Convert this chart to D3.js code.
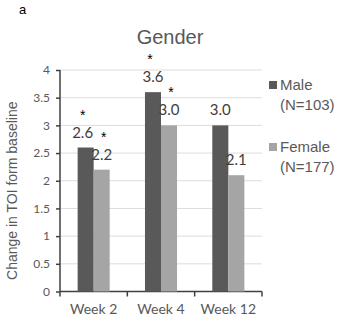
<!DOCTYPE html>
<html>
<head>
<meta charset="utf-8">
<script src="https://cdn.jsdelivr.net/npm/d3@7"></script>
<style>
  body { margin: 0; background: #fff; }
  svg { display: block; }
</style>
</head>
<body>
<svg id="chart" width="343" height="323"></svg>
<script>
// chart data
var weeks = ['Week 2', 'Week 4', 'Week 12'];
var seriesNames = ['Male', 'Female'];
var seriesN = ['(N=103)', '(N=177)'];
var maleValues = [2.6, 3.6, 3.0];
var femaleValues = [2.2, 3.0, 2.1];
var maleStar = [true, true, false];
var femaleStar = [true, true, false];
var yTicks = [0, 0.5, 1, 1.5, 2, 2.5, 3, 3.5, 4];

var colors = ['#595959', '#a5a5a5'];
var numFont = 'Lato, "Open Sans", sans-serif';
var txtFont = '"Liberation Sans", Arial, sans-serif';

var svg = d3.select('#chart');
var plotLeft = 60, plotRight = 262, plotTop = 70, plotBottom = 291.5;

var x = d3.scaleBand().domain(weeks).range([plotLeft, plotRight]).paddingInner(0).paddingOuter(0);
var xs = d3.scaleBand().domain(seriesNames).range([0, x.bandwidth()]).paddingInner(0).paddingOuter(1.1);
var y = d3.scaleLinear().domain([0, 4]).range([plotBottom, plotTop]);

// gridlines
svg.append('g').selectAll('line')
  .data(yTicks.filter(function(d) { return d > 0; }))
  .enter().append('line')
  .attr('x1', plotLeft).attr('x2', plotRight)
  .attr('y1', function(d) { return y(d); })
  .attr('y2', function(d) { return y(d); })
  .attr('stroke', '#dcdcdc').attr('stroke-width', 1);

// y axis
var yAxis = svg.append('g')
  .attr('transform', 'translate(' + plotLeft + ',0)')
  .call(d3.axisLeft(y).tickValues(yTicks).tickSize(4).tickPadding(6)
    .tickFormat(function(d) { return d; }));
yAxis.selectAll('path, line').attr('stroke', '#404040').attr('stroke-width', 1.5);
yAxis.select('.domain').attr('d', 'M0,' + plotTop + 'V' + plotBottom);
yAxis.selectAll('text').attr('fill', '#595959').style('font-family', numFont).style('font-size', '12px');

// x axis
var xAxis = svg.append('g')
  .attr('transform', 'translate(0,' + plotBottom + ')')
  .call(d3.axisBottom(x).tickSize(0).tickPadding(13));
xAxis.select('.domain').attr('stroke', '#404040').attr('stroke-width', 1.5)
  .attr('d', 'M' + plotLeft + ',0H' + plotRight);
xAxis.selectAll('text').attr('fill', '#595959').style('font-family', numFont).style('font-size', '14px');
xAxis.selectAll('.bnd').data(d3.range(weeks.length + 1)).enter().append('line')
  .attr('x1', function(i) { return plotLeft + i * x.bandwidth(); })
  .attr('x2', function(i) { return plotLeft + i * x.bandwidth(); })
  .attr('y1', 0).attr('y2', 5)
  .attr('stroke', '#404040').attr('stroke-width', 1.5);

// bars
var allSeries = [maleValues, femaleValues];
var allStars = [maleStar, femaleStar];
allSeries.forEach(function(vals, si) {
  var g = svg.append('g');
  g.selectAll('rect').data(vals).enter().append('rect')
    .attr('x', function(d, i) { return x(weeks[i]) + xs(seriesNames[si]); })
    .attr('width', xs.bandwidth())
    .attr('y', function(d) { return y(d); })
    .attr('height', function(d) { return plotBottom - y(d); })
    .attr('fill', colors[si]);
  g.selectAll('text.val').data(vals).enter().append('text')
    .attr('class', 'val')
    .attr('x', function(d, i) { return x(weeks[i]) + xs(seriesNames[si]) + xs.bandwidth() / 2 - (si === 0 && i === 0 ? 3 : 0); })
    .attr('y', function(d) { return y(d) - 10; })
    .attr('text-anchor', 'middle')
    .attr('fill', '#404040')
    .style('font-family', numFont).style('font-size', '15px')
    .text(function(d) { return d.toFixed(1); });
  g.selectAll('text.star').data(vals).enter().append('text')
    .attr('class', 'star')
    .attr('x', function(d, i) { return x(weeks[i]) + xs(seriesNames[si]) + xs.bandwidth() / 2 + (si === 0 ? -3 : 2); })
    .attr('y', function(d) { return y(d) - 28; })
    .attr('text-anchor', 'middle')
    .attr('fill', '#000')
    .style('font-family', txtFont).style('font-size', '14px')
    .text(function(d, i) { return allStars[si][i] ? '*' : ''; });
});

// title
svg.append('text').attr('x', 170).attr('y', 44).attr('text-anchor', 'middle')
  .attr('fill', '#595959').style('font-family', txtFont).style('font-size', '20px')
  .text('Gender');
svg.append('text').attr('x', 19).attr('y', 14)
  .attr('fill', '#000').style('font-family', txtFont).style('font-size', '13px')
  .text('a');

// y label
svg.append('text')
  .attr('transform', 'translate(17,' + ((plotTop + plotBottom) / 2 + 10) + ') rotate(-90)')
  .attr('text-anchor', 'middle')
  .attr('fill', '#595959').style('font-family', txtFont).style('font-size', '14px')
  .text('Change in TOI form baseline');

// legend
var legend = svg.append('g');
seriesNames.forEach(function(name, i) {
  var ly = 85 + i * 62;
  legend.append('rect').attr('x', 269).attr('y', ly - 4).attr('width', 8).attr('height', 8)
    .attr('fill', colors[i]);
  legend.append('text').attr('x', 280).attr('y', ly + 5)
    .attr('fill', '#595959').style('font-family', txtFont).style('font-size', '15px')
    .text(name);
  legend.append('text').attr('x', 280).attr('y', ly + 25)
    .attr('fill', '#595959').style('font-family', txtFont).style('font-size', '15px')
    .text(seriesN[i]);
});
</script>
</body>
</html>
